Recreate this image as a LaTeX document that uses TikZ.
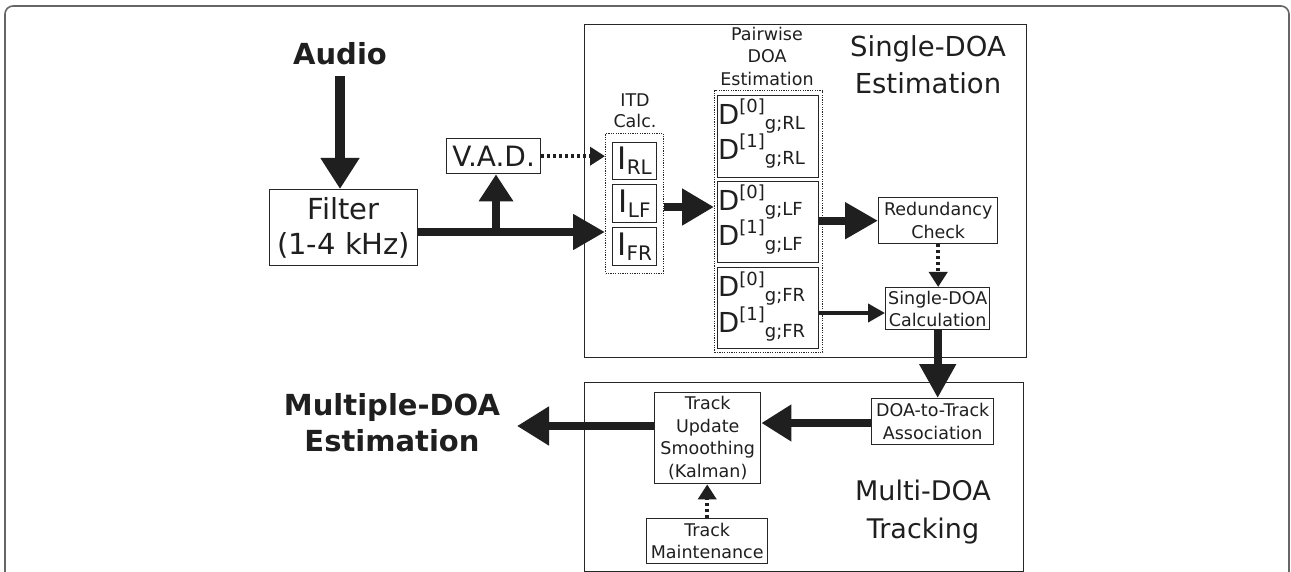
\documentclass[tikz,border=0pt]{standalone}
\usepackage{fontspec}
\setmainfont{DejaVu Sans}
\usetikzlibrary{arrows.meta}
\newcommand{\fs}[2]{\fontsize{#1}{#2}\selectfont}
\newcommand{\Dterm}[2]{{\fs{27.5}{30}D}\raisebox{12pt}{\fs{18}{20}[#1]}\raisebox{-5pt}{\fs{18}{20}g;#2}}
\newcommand{\Iterm}[1]{{\fs{31}{31}I}\raisebox{-5pt}{\fs{20}{20}#1}}
\begin{document}
\begin{tikzpicture}[x=1pt,y=-1pt,
  every node/.style={text=black!88},
  box/.style={draw=black!85, line width=1.4pt, inner sep=0pt, anchor=north west, align=center},
  grp/.style={draw=black!85, line width=1.1pt, dash pattern=on 1.2pt off 1.2pt, inner sep=0pt, anchor=north west},
  lbl/.style={anchor=base, inner sep=0pt},
  dline/.style={anchor=base west, inner sep=0pt},
  fat/.style={draw=black!88, line width=8pt},
  dotarr/.style={draw=black!88, line width=4pt, dash pattern=on 3pt off 3pt, -{Triangle[length=15pt,width=18pt]}},
]
\useasboundingbox (0,0) rectangle (1291,572);
\clip (0,0) rectangle (1291,572);
\fill[white] (0,0) rectangle (1291,572);
% outer frame
\draw[black!60, line width=1.6pt, rounded corners=8pt] (5,6) rectangle (1289,640);

% group boxes
\node[box, minimum width=442, minimum height=333] (sbox) at (584,24) {};
\node[box, minimum width=439, minimum height=189] (mbox) at (584,382) {};

% outer labels
\node[lbl, font=\bfseries\fs{29}{35}] (audio) at (340,65) {Audio};
\node[lbl, font=\bfseries\fs{29}{35}] (mdoa1) at (392,415) {Multiple-DOA};
\node[lbl, font=\bfseries\fs{29}{35}] (mdoa2) at (392,451) {Estimation};
\node[lbl, font=\fs{27.5}{35}] (slab1) at (928,57) {Single-DOA};
\node[lbl, font=\fs{27.5}{35}] (slab2) at (928,94) {Estimation};
\node[lbl, font=\fs{27}{35}] (mlab1) at (923,500) {Multi-DOA};
\node[lbl, font=\fs{27}{35}] (mlab2) at (923,538) {Tracking};
\node[lbl, font=\fs{17.5}{22}] (itd1) at (635,107) {ITD};
\node[lbl, font=\fs{17.5}{22}] (itd2) at (635,128) {Calc.};
\node[lbl, font=\fs{17.5}{22}] (pw1) at (767,41) {Pairwise};
\node[lbl, font=\fs{17.5}{22}] (pw2) at (767,63) {DOA};
\node[lbl, font=\fs{17.5}{22}] (pw3) at (767,86) {Estimation};

% processing boxes
\node[box, minimum width=148, minimum height=76, font=\fs{29}{35}] (filter) at (269,189) {Filter\\(1-4 kHz)};
\node[box, minimum width=94, minimum height=35, font=\fs{28}{30}] (vad) at (446,138) {V.A.D.};

\node[grp, minimum width=58, minimum height=140] (itd) at (605,133) {};
\node[box, minimum width=44, minimum height=37] (irl) at (612,142) {\Iterm{RL}};
\node[box, minimum width=44, minimum height=38] (ilf) at (612,184) {\Iterm{LF}};
\node[box, minimum width=44, minimum height=38] (ifr) at (612,227) {\Iterm{FR}};

\node[grp, minimum width=108, minimum height=262] (pw) at (714,90) {};
\node[box, minimum width=101, minimum height=82] (d1) at (717,95) {};
\node[box, minimum width=101, minimum height=81] (d2) at (717,181) {};
\node[box, minimum width=101, minimum height=81] (d3) at (717,267) {};
\node[dline] (d1a) at (718,125) {\Dterm{0}{RL}};
\node[dline] (d1b) at (718,160) {\Dterm{1}{RL}};
\node[dline] (d2a) at (718,211) {\Dterm{0}{LF}};
\node[dline] (d2b) at (718,246) {\Dterm{1}{LF}};
\node[dline] (d3a) at (718,297) {\Dterm{0}{FR}};
\node[dline] (d3b) at (718,332) {\Dterm{1}{FR}};

\node[box, minimum width=119, minimum height=46, font=\fs{17.5}{23}] (redund) at (878,197) {Redundancy\\Check};
\node[box, minimum width=104, minimum height=42, font=\fs{17.5}{22}] (sdcalc) at (885,287) {Single-DOA\\Calculation};
\node[box, minimum width=122, minimum height=46, font=\fs{17.5}{22.5}] (d2t) at (871,398) {DOA-to-Track\\Association};
\node[box, minimum width=106, minimum height=91, font=\fs{17.5}{22.5}] (tu) at (654,392) {Track\\Update\\Smoothing\\(Kalman)};
\node[box, minimum width=121, minimum height=45, font=\fs{17.5}{22}] (tm) at (646,518) {Track\\Maintenance};

% connectors
\coordinate (fl) at (0,232);
\coordinate (br) at (496,232);
\coordinate (iy) at (0,207);
\coordinate (sy) at (0,313);
\coordinate (ty) at (0,423);
\coordinate (oy) at (0,426);
\coordinate (outpt) at (517,426);

\draw[fat, line width=10pt, -{Triangle[length=31pt,width=37pt]}, shorten <=10pt] (audio.south) -- (audio.south |- filter.north);
\draw[fat, -{Triangle[length=32pt,width=34pt]}] (filter.east |- fl) -- (itd.west |- fl);
\draw[fat, -{Triangle[length=27pt,width=33pt]}] (br) -- (br |- vad.south);
\draw[dotarr] (vad.east) -- (itd.west |- vad.east);
\draw[fat, -{Triangle[length=32pt,width=35pt]}] (itd.east |- iy) -- (pw.west |- iy);
\draw[fat, -{Triangle[length=33pt,width=35pt]}] (d2.east |- redund.west) -- (redund.west);
\draw[dotarr] (redund.south) -- (redund.south |- sdcalc.north);
\draw[draw=black!88, line width=4pt, -{Triangle[length=17pt,width=18pt]}] (d3.east |- sy) -- (sdcalc.west |- sy);
\draw[fat, -{Triangle[length=34pt,width=35pt]}] (sdcalc.south) -- (sdcalc.south |- d2t.north);
\draw[fat, -{Triangle[length=30pt,width=35pt]}] (d2t.west |- ty) -- (tu.east |- ty);
\draw[fat, -{Triangle[length=32pt,width=37pt]}] (tu.west |- oy) -- (outpt);
\draw[dotarr] (tm.north) -- (tm.north |- tu.south);
\end{tikzpicture}
\end{document}
